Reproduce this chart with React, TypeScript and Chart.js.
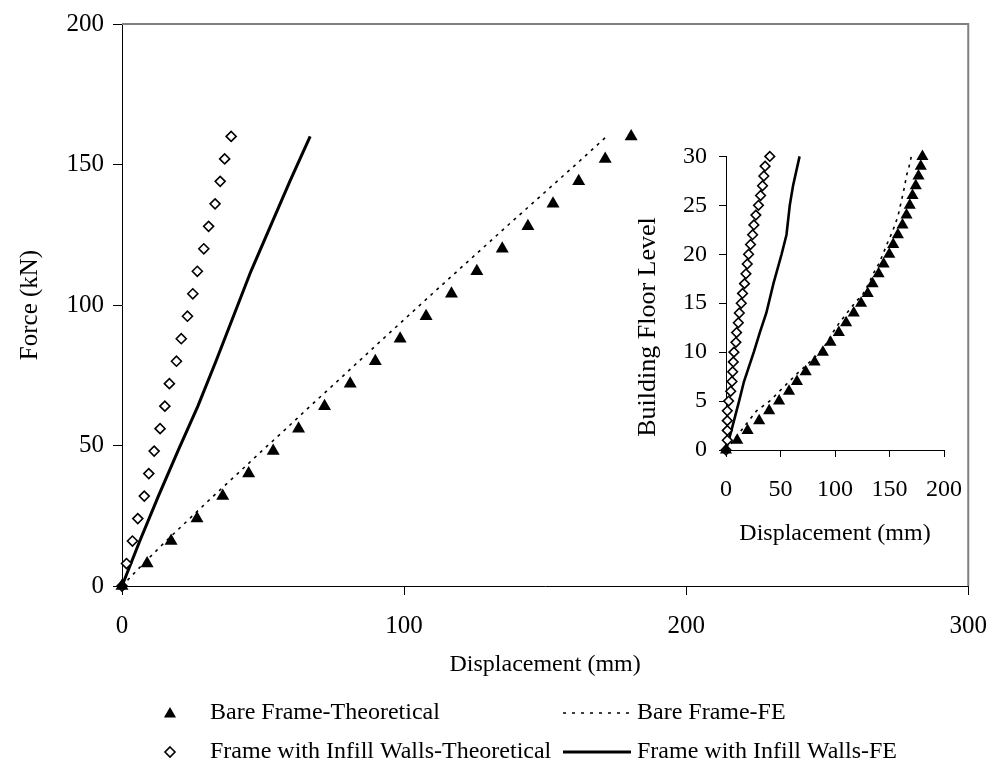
import React, { useEffect, useRef } from "react";
import { Chart, registerables } from "chart.js";

Chart.register(...registerables);

// ---------- main chart data (Force vs Displacement) ----------
const forceLevels = [0, 8, 16, 24, 32, 40, 48, 56, 64, 72, 80, 88, 96, 104, 112, 120, 128, 136, 144, 152, 160];
const bareTheoDisp = [0, 8.9, 17.4, 26.6, 35.7, 44.9, 53.6, 62.6, 71.8, 80.9, 89.8, 98.6, 107.8, 116.8, 125.8, 134.8, 143.9, 152.8, 161.9, 171.3, 180.5];
const bareFEDisp = [0, 7.6, 15.6, 24.0, 32.4, 41.0, 49.5, 58.2, 66.7, 75.4, 84.0, 92.6, 101.3, 110.0, 118.8, 127.6, 136.4, 145.3, 154.2, 163.1, 171.8];
const infillTheoDisp = [0, 1.6, 3.7, 5.6, 7.9, 9.5, 11.4, 13.5, 15.2, 16.8, 19.3, 21.0, 23.2, 25.1, 26.7, 29.0, 30.7, 33.0, 34.8, 36.4, 38.7];
const infillFEForce = [0, 16, 32, 48, 64, 80, 96, 112, 128, 144, 160];
const infillFEDisp = [0, 6.3, 12.9, 19.8, 26.9, 33.3, 39.5, 45.7, 52.6, 59.5, 66.7];

// ---------- inset data (Building Floor Level vs Displacement) ----------
const floors = [0, 1, 2, 3, 4, 5, 6, 7, 8, 9, 10, 11, 12, 13, 14, 15, 16, 17, 18, 19, 20, 21, 22, 23, 24, 25, 26, 27, 28, 29, 30];
const insetBareTheo = [0, 10.3, 19.8, 30.4, 39.6, 48.7, 57.8, 65.1, 73.1, 81.3, 88.9, 95.9, 103.5, 110.2, 117.2, 123.9, 130.0, 134.5, 140.0, 144.6, 149.8, 153.4, 157.7, 161.9, 165.6, 168.6, 171.1, 174.1, 176.6, 178.7, 180.2];
const insetBareFE = [0, 7, 14, 21, 28, 40, 49, 58, 67, 77, 86, 93, 98, 104, 111, 118, 126, 131, 135, 140, 144, 147.5, 151.5, 155, 158, 160, 162, 164, 165.5, 168, 170];
const insetInfillTheo = [0, 1.2, 1.2, 1.2, 1.2, 2.4, 4.3, 5.5, 6.1, 6.7, 7.3, 9.1, 9.7, 11.3, 12.2, 14.0, 15.2, 17.0, 18.3, 19.5, 20.7, 22.5, 24.4, 25.6, 27.4, 29.8, 31.7, 33.5, 34.7, 35.9, 40.2];
const insetInfillFEFloors = [0, 2, 5, 7, 10, 12, 14, 17, 20, 22, 25, 27, 30];
const insetInfillFE = [0, 5.0, 12.0, 16.5, 25.5, 31.0, 37.0, 43.5, 51.0, 55.5, 58.5, 61.5, 67.5];

// ---------- ticks & labels ----------
const mainXTicks = [0, 100, 200, 300];
const mainYTicks = [0, 50, 100, 150, 200];
const insetXTicks = [0, 50, 100, 150, 200];
const insetYTicks = [0, 5, 10, 15, 20, 25, 30];
const seriesNames = [
  "Bare Frame-Theoretical",
  "Bare Frame-FE",
  "Frame with Infill Walls-Theoretical",
  "Frame with Infill Walls-FE",
];
const mainXTitle = "Displacement (mm)";
const mainYTitle = "Force (kN)";
const insetXTitle = "Displacement (mm)";
const insetYTitle = "Building Floor Level";

const FAMILY = "'Liberation Serif', 'Times New Roman', serif";

const pts = (xs: number[], ys: number[]) => xs.map((x, i) => ({ x, y: ys[i] }));

function triangle(ctx: CanvasRenderingContext2D, x: number, y: number, r: number) {
  ctx.beginPath();
  ctx.moveTo(x, y - r);
  ctx.lineTo(x + r * 0.866, y + r * 0.5);
  ctx.lineTo(x - r * 0.866, y + r * 0.5);
  ctx.closePath();
  ctx.fillStyle = "#000";
  ctx.fill();
}

function diamond(ctx: CanvasRenderingContext2D, x: number, y: number, r: number) {
  ctx.beginPath();
  ctx.moveTo(x, y - r);
  ctx.lineTo(x + r, y);
  ctx.lineTo(x, y + r);
  ctx.lineTo(x - r, y);
  ctx.closePath();
  ctx.fillStyle = "#fff";
  ctx.fill();
  ctx.strokeStyle = "#000";
  ctx.lineWidth = 1.6;
  ctx.stroke();
}

const frameBorderPlugin = {
  id: "frameBorder",
  beforeDatasetsDraw(chart: any) {
    const { ctx, chartArea: a } = chart;
    ctx.save();
    ctx.strokeStyle = "#808080";
    ctx.lineWidth = 2;
    ctx.beginPath();
    ctx.moveTo(a.left, a.top);
    ctx.lineTo(a.right, a.top);
    ctx.lineTo(a.right, a.bottom);
    ctx.stroke();
    ctx.restore();
  },
};

const customLegendPlugin = {
  id: "customLegend",
  afterDraw(chart: any) {
    const ctx: CanvasRenderingContext2D = chart.ctx;
    ctx.save();
    ctx.font = `24px ${FAMILY}`;
    ctx.fillStyle = "#000";
    ctx.textBaseline = "middle";
    ctx.textAlign = "left";
    const row1 = 713;
    const row2 = 752;
    // column 1
    triangle(ctx, 170, row1 + 1, 7);
    ctx.fillStyle = "#000";
    ctx.fillText(seriesNames[0], 210, row1);
    diamond(ctx, 170, row2, 5);
    ctx.fillStyle = "#000";
    ctx.fillText(seriesNames[2], 210, row2);
    // column 2
    ctx.strokeStyle = "#000";
    ctx.lineWidth = 1.5;
    ctx.setLineDash([3, 6]);
    ctx.beginPath();
    ctx.moveTo(563, row1);
    ctx.lineTo(629, row1);
    ctx.stroke();
    ctx.setLineDash([]);
    ctx.fillText(seriesNames[1], 637, row1);
    ctx.lineWidth = 3;
    ctx.beginPath();
    ctx.moveTo(563, row2);
    ctx.lineTo(631, row2);
    ctx.stroke();
    ctx.fillText(seriesNames[3], 637, row2);
    ctx.restore();
  },
};

const insetTitlePlugin = {
  id: "insetYTitle",
  afterDraw(chart: any) {
    const ctx: CanvasRenderingContext2D = chart.ctx;
    ctx.save();
    ctx.font = `26px ${FAMILY}`;
    ctx.fillStyle = "#000";
    ctx.textAlign = "center";
    ctx.textBaseline = "middle";
    ctx.translate(28, 197);
    ctx.rotate(-Math.PI / 2);
    ctx.fillText(insetYTitle, 0, 0);
    ctx.restore();
  },
};

function axisCommon(fontSize: number, tickLen: number, pad: number) {
  return {
    type: "linear" as const,
    ticks: { font: { family: FAMILY, size: fontSize }, color: "#000", padding: pad, maxRotation: 0, autoSkip: false },
    grid: { display: true, drawOnChartArea: false, drawTicks: true, tickLength: tickLen, color: "#000", lineWidth: 1 },
    border: { display: true, color: "#000", width: 1 },
  };
}

export default function App() {
  const mainRef = useRef<HTMLCanvasElement>(null);
  const insetRef = useRef<HTMLCanvasElement>(null);

  useEffect(() => {
    if (!mainRef.current || !insetRef.current) return;

    const main = new Chart(mainRef.current, {
      type: "scatter",
      data: {
        datasets: [
          {
            label: seriesNames[0],
            data: pts(bareTheoDisp, forceLevels),
            showLine: false,
            pointStyle: "triangle",
            pointRadius: 7.5,
            backgroundColor: "#000",
            borderColor: "#000",
            borderWidth: 0,
            clip: false,
          },
          {
            label: seriesNames[1],
            data: pts(bareFEDisp, forceLevels),
            showLine: true,
            borderColor: "#000",
            borderWidth: 1.6,
            borderDash: [3, 5],
            pointRadius: 0,
            clip: false,
          },
          {
            label: seriesNames[2],
            data: pts(infillTheoDisp, forceLevels),
            showLine: false,
            pointStyle: "rectRot",
            pointRadius: 5,
            backgroundColor: "#fff",
            borderColor: "#000",
            borderWidth: 1.6,
            clip: false,
          },
          {
            label: seriesNames[3],
            data: pts(infillFEDisp, infillFEForce),
            showLine: true,
            borderColor: "#000",
            borderWidth: 3,
            pointRadius: 0,
            clip: false,
          },
        ],
      } as any,
      options: {
        responsive: false,
        animation: false,
        devicePixelRatio: 1,
        layout: { padding: { left: 0, right: 20, top: 22, bottom: 0 } },
        plugins: { legend: { display: false }, tooltip: { enabled: false } },
        scales: {
          x: {
            ...axisCommon(25, 9, 16),
            min: 0,
            max: 300,
            afterBuildTicks: (s: any) => { s.ticks = mainXTicks.map((v) => ({ value: v })); },
            afterFit: (s: any) => { s.height = 181; },
            title: { display: true, text: mainXTitle, font: { family: FAMILY, size: 24 }, color: "#000", padding: { top: 0, bottom: 88 } },
          },
          y: {
            ...axisCommon(25, 9, 9),
            min: 0,
            max: 200,
            afterBuildTicks: (s: any) => { s.ticks = mainYTicks.map((v) => ({ value: v })); },
            afterFit: (s: any) => { s.width = 122; },
            title: { display: true, text: mainYTitle, font: { family: FAMILY, size: 25 }, color: "#000", padding: { top: 15, bottom: 0 } },
          },
        },
      } as any,
      plugins: [frameBorderPlugin, customLegendPlugin],
    });

    const inset = new Chart(insetRef.current, {
      type: "scatter",
      data: {
        datasets: [
          {
            label: seriesNames[0],
            data: pts(insetBareTheo, floors),
            showLine: false,
            pointStyle: "triangle",
            pointRadius: 7,
            backgroundColor: "#000",
            borderColor: "#000",
            borderWidth: 0,
            clip: false,
          },
          {
            label: seriesNames[1],
            data: pts(insetBareFE, floors),
            showLine: true,
            borderColor: "#000",
            borderWidth: 1.6,
            borderDash: [3, 5],
            pointRadius: 0,
            clip: false,
          },
          {
            label: seriesNames[2],
            data: pts(insetInfillTheo, floors),
            showLine: false,
            pointStyle: "rectRot",
            pointRadius: 4.8,
            backgroundColor: "#fff",
            borderColor: "#000",
            borderWidth: 1.6,
            clip: false,
          },
          {
            label: seriesNames[3],
            data: pts(insetInfillFE, insetInfillFEFloors),
            showLine: true,
            borderColor: "#000",
            borderWidth: 2.6,
            pointRadius: 0,
            clip: false,
          },
        ],
      } as any,
      options: {
        responsive: false,
        animation: false,
        devicePixelRatio: 1,
        layout: { padding: { left: 0, right: 35, top: 19, bottom: 0 } },
        plugins: { legend: { display: false }, tooltip: { enabled: false } },
        scales: {
          x: {
            ...axisCommon(24, 7, 18),
            min: 0,
            max: 200,
            afterBuildTicks: (s: any) => { s.ticks = insetXTicks.map((v) => ({ value: v })); },
            afterFit: (s: any) => { s.height = 100; },
            title: { display: true, text: insetXTitle, font: { family: FAMILY, size: 24 }, color: "#000", padding: { top: 0, bottom: 2 } },
          },
          y: {
            ...axisCommon(24, 7, 12),
            min: 0,
            max: 30,
            afterBuildTicks: (s: any) => { s.ticks = insetYTicks.map((v) => ({ value: v })); },
            afterFit: (s: any) => { s.width = 106; },
          },
        },
      } as any,
      plugins: [insetTitlePlugin],
    });

    return () => {
      main.destroy();
      inset.destroy();
    };
  }, []);

  return (
    <div style={{ position: "absolute", left: 0, top: 0, width: 1003, height: 767, background: "#fff" }}>
      <canvas ref={mainRef} width={1003} height={767} style={{ position: "absolute", left: 0, top: 0, width: 1003, height: 767 }} />
      <canvas ref={insetRef} width={360} height={420} style={{ position: "absolute", left: 620, top: 130, width: 360, height: 420 }} />
    </div>
  );
}
